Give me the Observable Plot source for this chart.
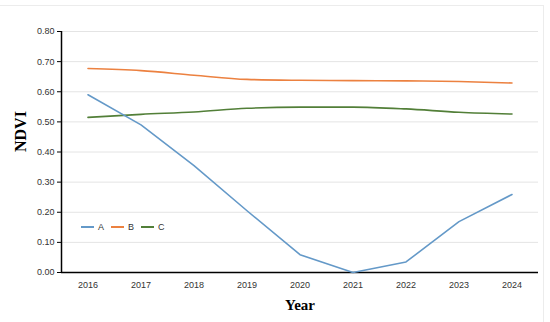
<!DOCTYPE html>
<html>
<head>
<meta charset="utf-8">
<script src="https://cdn.jsdelivr.net/npm/d3@7"></script>
<script src="https://cdn.jsdelivr.net/npm/@observablehq/plot@0.6"></script>
<style>
  html, body { margin: 0; padding: 0; background: #fff; }
  #wrap { position: relative; width: 550px; height: 322px; overflow: hidden; }
  #frame { position: absolute; left: -2px; top: 5px; width: 546px; height: 320px; border-top: 1px solid #ececec; border-right: 1px solid #ececec; box-sizing: border-box; }
  #legend { position: absolute; left: 81px; top: 222px; font: 9px "Liberation Sans", Arial, sans-serif; color: #333; display: flex; align-items: center; }
  #legend .item { display: flex; align-items: center; margin-right: 7px; }
  #legend .sw { width: 13px; height: 2px; margin-right: 4px; }
</style>
</head>
<body>
<div id="wrap">
  <div id="frame"></div>
  <div id="chart"></div>
  <div id="legend"></div>
</div>
<script>
const years = [2016, 2017, 2018, 2019, 2020, 2021, 2022, 2023, 2024];
const seriesA = [0.59, 0.49, 0.355, 0.205, 0.059, 0.0, 0.035, 0.169, 0.259];
const seriesB = [0.677, 0.670, 0.655, 0.641, 0.638, 0.637, 0.636, 0.634, 0.629];
const seriesC = [0.515, 0.525, 0.533, 0.545, 0.549, 0.549, 0.543, 0.532, 0.526];
const seriesNames = ["A", "B", "C"];
const seriesColors = ["#6499c8", "#ec8140", "#527f38"];
const yTicks = [0, 0.1, 0.2, 0.3, 0.4, 0.5, 0.6, 0.7, 0.8];

const allSeries = [seriesA, seriesB, seriesC];
const data = [];
seriesNames.forEach((name, i) => {
  years.forEach((yr, j) => data.push({ year: yr, value: allSeries[i][j], series: name }));
});
const dataA = data.filter(d => d.series === "A");
const dataBC = data.filter(d => d.series !== "A");

const font = "'Liberation Sans', Arial, sans-serif";

const chart = Plot.plot({
  width: 550,
  height: 322,
  marginLeft: 61,
  marginRight: 12,
  marginTop: 31,
  marginBottom: 50,
  style: { fontFamily: font, fontSize: "9px", color: "#333", background: "transparent" },
  x: { domain: [2015.5, 2024.5], label: null },
  y: { domain: [0, 0.8], label: null },
  color: { domain: seriesNames, range: seriesColors },
  marks: [
    Plot.gridY(yTicks, { stroke: "#e4e4e4", strokeOpacity: 1, strokeWidth: 1 }),
    Plot.axisY({ ticks: yTicks, tickFormat: d3.format(".2f"), tickSize: 4, tickPadding: 3, stroke: "#000", label: null }),
    Plot.axisX({ ticks: years, tickFormat: d => String(d), tickSize: 0, tickPadding: 9, label: null }),
    Plot.ruleX([2015.5], { y1: 0, y2: 0.8, stroke: "#000", strokeWidth: 1.5 }),
    Plot.ruleY([0], { stroke: "#000", strokeWidth: 1.5 }),
    Plot.line(dataBC, { x: "year", y: "value", z: "series", stroke: "series", strokeWidth: 1.6, curve: "monotone-x" }),
    Plot.line(dataA, { x: "year", y: "value", z: "series", stroke: "series", strokeWidth: 1.6, curve: "linear" }),
    Plot.text(["NDVI"], { frameAnchor: "left", dx: -41, rotate: -90, fontFamily: "'Liberation Serif', 'Times New Roman', serif", fontWeight: "bold", fontSize: 16, fill: "#000" }),
    Plot.text(["Year"], { frameAnchor: "bottom", dy: 37, fontFamily: "'Liberation Serif', 'Times New Roman', serif", fontWeight: "bold", fontSize: 15, fill: "#000" })
  ]
});
document.getElementById("chart").appendChild(chart);

const legend = document.getElementById("legend");
seriesNames.forEach((name, i) => {
  const item = document.createElement("div");
  item.className = "item";
  const sw = document.createElement("div");
  sw.className = "sw";
  sw.style.background = seriesColors[i];
  const t = document.createElement("span");
  t.textContent = name;
  item.appendChild(sw);
  item.appendChild(t);
  legend.appendChild(item);
});
</script>
</body>
</html>
